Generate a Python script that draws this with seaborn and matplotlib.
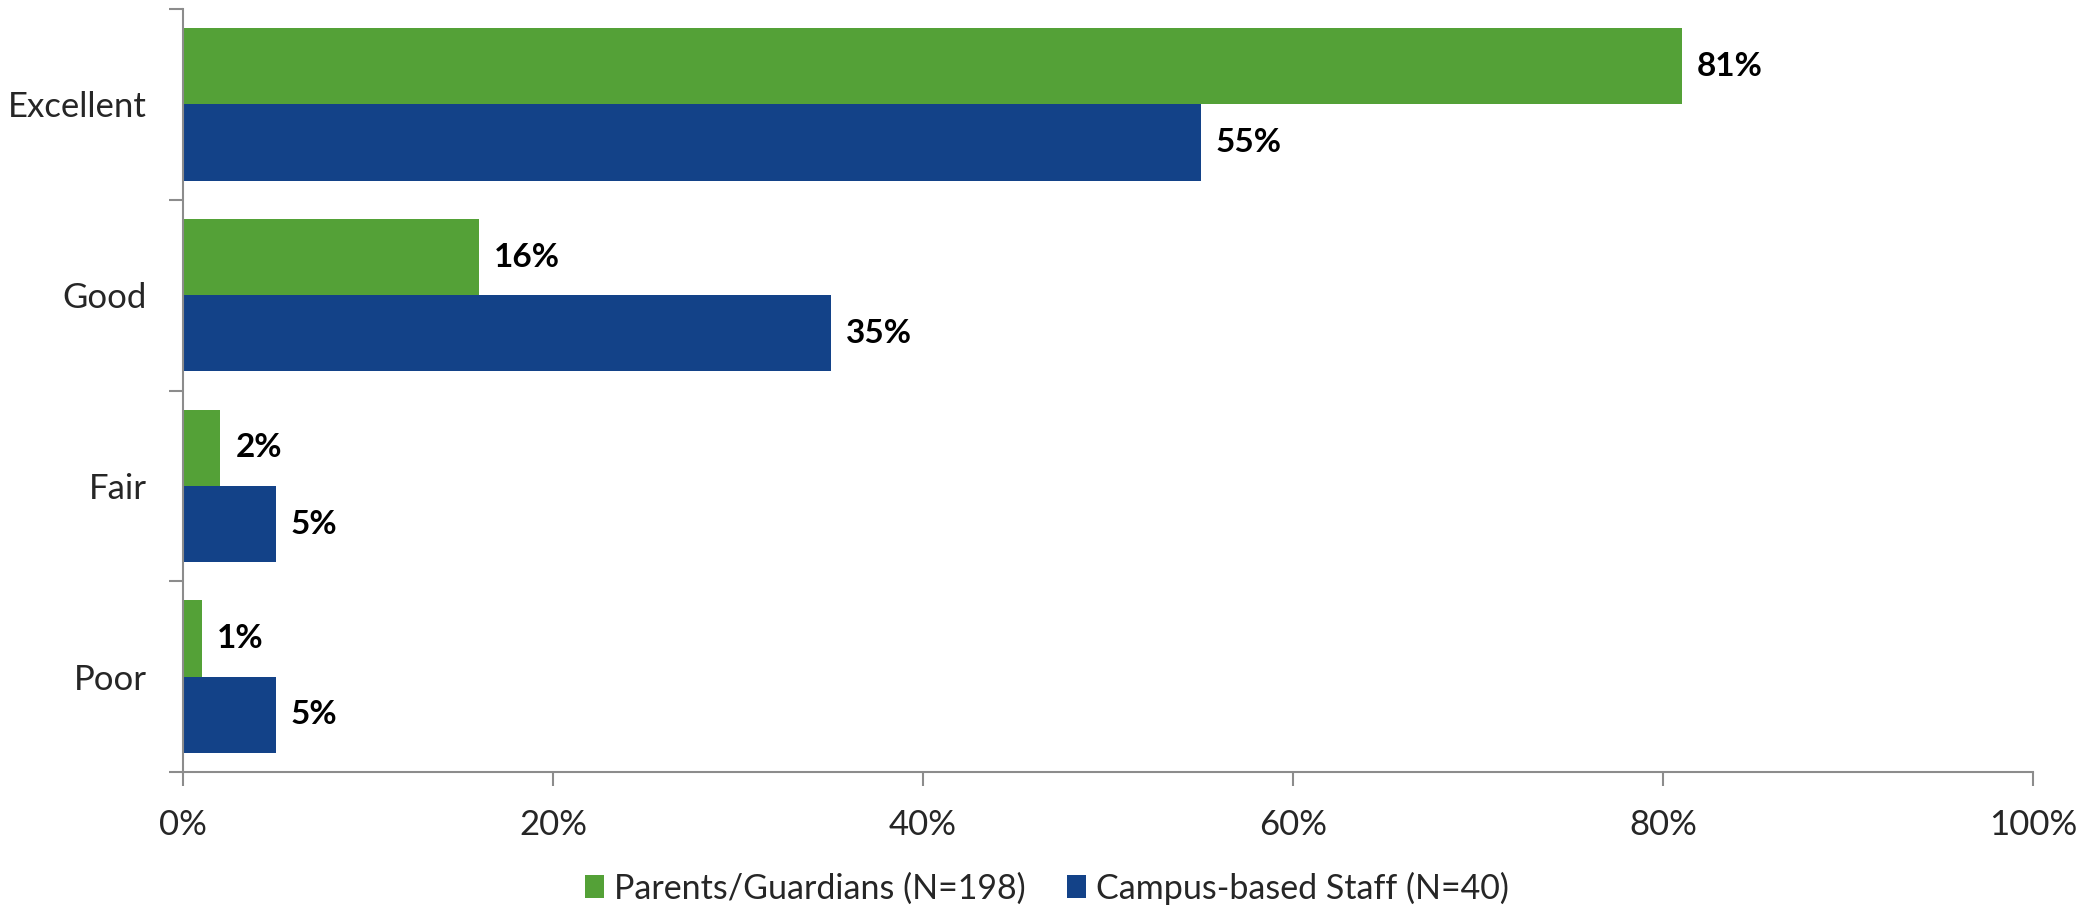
import matplotlib.pyplot as plt
import pandas as pd
import seaborn as sns
from matplotlib.ticker import FixedLocator, PercentFormatter

categories = ["Excellent", "Good", "Fair", "Poor"]
groups = ["Parents/Guardians (N=198)", "Campus-based Staff (N=40)"]
parents = [81, 16, 2, 1]
staff = [55, 35, 5, 5]
colors = ["#54A137", "#134288"]
x_ticks = [0, 20, 40, 60, 80, 100]

df = pd.DataFrame({
    "rating": categories * 2,
    "group": [groups[0]] * len(parents) + [groups[1]] * len(staff),
    "pct": parents + staff,
})

sns.set_style("white")
plt.rcParams["font.family"] = ["Lato", "DejaVu Sans"]
axis_grey = "#8c8c8c"

fig = plt.figure(figsize=(20.94, 9.11), dpi=100)
ax = fig.add_axes([0.0874, 0.1526, 0.8835, 0.8374])

sns.barplot(data=df, x="pct", y="rating", hue="group", order=categories,
            hue_order=groups, palette=colors, saturation=1, width=0.8,
            orient="h", linewidth=0, ax=ax)

# etiquetas em negrito na ponta de cada barra
for container in ax.containers:
    ax.bar_label(container, fmt="%.0f%%", padding=11, fontsize=24,
                 fontweight="bold", color="black")

ax.set_xlim(0, 100)
ax.set_ylim(3.5, -0.5)
ax.set_xticks(x_ticks)
ax.xaxis.set_major_formatter(PercentFormatter(100, decimals=0))
ax.set_xlabel("")
ax.set_ylabel("")

# ticks do eixo y ficam nas divisas entre categorias, rótulo no centro
ax.yaxis.set_minor_locator(FixedLocator([-0.5, 0.5, 1.5, 2.5, 3.5]))
ax.tick_params(axis="y", which="major", length=0, pad=26, labelsize=25)
ax.tick_params(axis="y", which="minor", length=10, width=1.5,
               color=axis_grey, direction="out", left=True)
ax.tick_params(axis="x", which="major", length=10, width=1.5,
               color=axis_grey, direction="out", bottom=True, pad=17,
               labelsize=25)

for side in ["top", "right"]:
    ax.spines[side].set_visible(False)
for side in ["left", "bottom"]:
    ax.spines[side].set_color(axis_grey)
    ax.spines[side].set_linewidth(1.5)

handles, labels = ax.get_legend_handles_labels()
ax.get_legend().remove()
fig.legend(handles, labels, loc="center", bbox_to_anchor=(0.5, 1 - 888 / 911),
           ncol=2, frameon=False, fontsize=24.5, handlelength=0.55,
           handleheight=0.65, handletextpad=0.3, columnspacing=1.2)

fig.savefig("out.png", dpi=100)
